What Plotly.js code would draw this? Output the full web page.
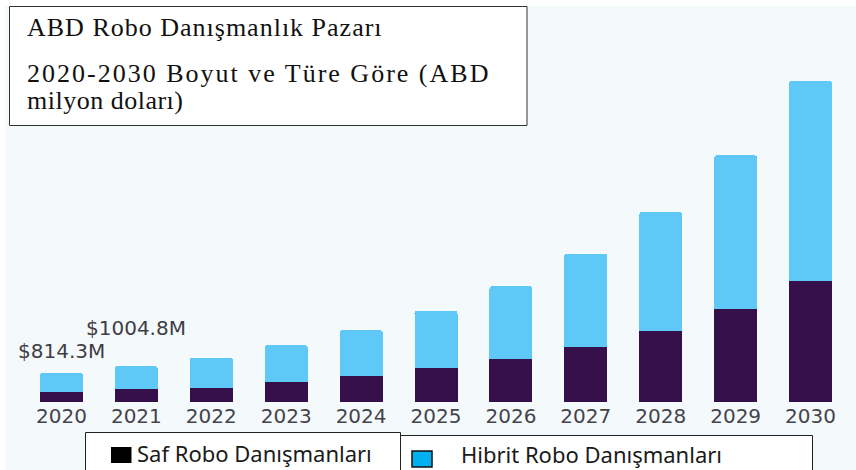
<!DOCTYPE html>
<html><head><meta charset="utf-8">
<script src="https://cdn.plot.ly/plotly-3.0.1.min.js"></script>
<style>html,body{margin:0;padding:0;background:#fff;}#chart{width:856px;height:470px;}</style>
</head><body><div id="chart"></div>
<script>
const years = ['2020','2021','2022','2023','2024','2025','2026','2027','2028','2029','2030'];
const pureValues = [281, 365, 404, 573, 730, 955, 1219, 1544, 1994, 2611, 3398];
const hybridValues = [533.3, 639.8, 843, 1019, 1292, 1612, 2030, 2623, 3341, 4316, 5616];
const seriesNames = ['Saf Robo Danışmanları', 'Hibrit Robo Danışmanları'];
const titleLines = ['ABD Robo Danışmanlık Pazarı', '2020-2030 Boyut ve Türe Göre (ABD', 'milyon doları)'];
const labelYears = ['2020', '2021'];
const labelTexts = ['$814.3M', '$1004.8M'];

const W = 856, H = 470, ML = 24, MR = 8, MT = 10, MB = 68;
const fx = p => (p - ML) / (W - ML - MR);
const fy = p => (H - MB - p) / (H - MT - MB);

const DARK = '#36104a', LIGHT = '#5ec9f6', BG = '#f4f9fc';

const traces = [
  {type:'bar', x: years, y: pureValues, name: seriesNames[0], marker:{color: DARK}, hoverinfo:'skip'},
  {type:'bar', x: years, y: hybridValues, name: seriesNames[1], marker:{color: LIGHT}, hoverinfo:'skip'}
];

function rect(x0,y0,x1,y1,fill,line,lw,layer){
  return {type:'rect', xref:'paper', yref:'paper', x0:fx(x0), x1:fx(x1), y0:fy(y1), y1:fy(y0),
    fillcolor: fill, line:{color: line || 'rgba(0,0,0,0)', width: lw || 0}, layer: layer || 'above'};
}

const shapes = [
  rect(-5, -5, 861, 6, '#ffffff', null, 0, 'below'),
  rect(-5, -5, 5, 480, '#ffffff', null, 0, 'below'),
  rect(9.5, 6.5, 527, 125.5, '#ffffff', '#333333', 1),
  rect(85.5, 432.5, 400.5, 490, '#ffffff', '#222222', 1),
  rect(400.5, 435.5, 812.5, 490, '#ffffff', '#222222', 1),
  rect(111, 447, 131.5, 463, '#000000', null, 0),
  rect(412, 451, 432, 467, '#00b0f0', '#111111', 1.5)
];

const annotations = [];
const spacing = [1, 2, 0.5];
const titleCenters = [27.2, 73.2, 100.2];
titleLines.forEach((t,i) => {
  annotations.push({xref:'paper', yref:'paper', x: fx(24.5), y: fy(titleCenters[i]), xanchor:'left', yanchor:'middle',
    text: '<span style="letter-spacing:' + spacing[i] + 'px">' + t + '</span>', showarrow:false,
    font:{family:'Liberation Serif, Times New Roman, serif', size:26, color:'#111111'}});
});
annotations.push({xref:'paper', yref:'paper', x: fx(135), y: fy(452.6), xanchor:'left', yanchor:'middle',
  text: seriesNames[0], showarrow:false, font:{family:'Noto Sans, sans-serif', size:22, color:'#1a1a1a'}});
annotations.push({xref:'paper', yref:'paper', x: fx(459), y: fy(454), xanchor:'left', yanchor:'middle',
  text: seriesNames[1], showarrow:false, font:{family:'Noto Sans, sans-serif', size:22, color:'#1a1a1a'}});

const yshifts = [8, 24];
labelYears.forEach((yr,i) => {
  const k = years.indexOf(yr);
  annotations.push({xref:'x', yref:'y', x: k, y: pureValues[k] + hybridValues[k], xanchor:'center', yanchor:'bottom', yshift: yshifts[i],
    text: labelTexts[i], showarrow:false, font:{family:'DejaVu Sans, sans-serif', size:20, color:'#3f3d45'}});
});

const layout = {
  width: W, height: H,
  margin:{l:ML, r:MR, t:MT, b:MB, pad:0},
  paper_bgcolor: BG, plot_bgcolor: 'rgba(0,0,0,0)',
  barmode:'stack', bargap:0.426, barcornerradius:3,
  showlegend:false,
  xaxis:{type:'category', range:[-0.5, 10.5], showgrid:false, zeroline:false, showline:false, ticks:'',
    tickfont:{family:'DejaVu Sans, sans-serif', size:20, color:'#45434b'}, ticklabelstandoff:0, fixedrange:true},
  yaxis:{range:[0, 11007], showticklabels:false, ticks:'', showline:false, showgrid:false, zeroline:false, fixedrange:true},
  shapes: shapes,
  annotations: annotations
};

Plotly.newPlot('chart', traces, layout, {displayModeBar:false, staticPlot:true});
</script>
</body></html>
